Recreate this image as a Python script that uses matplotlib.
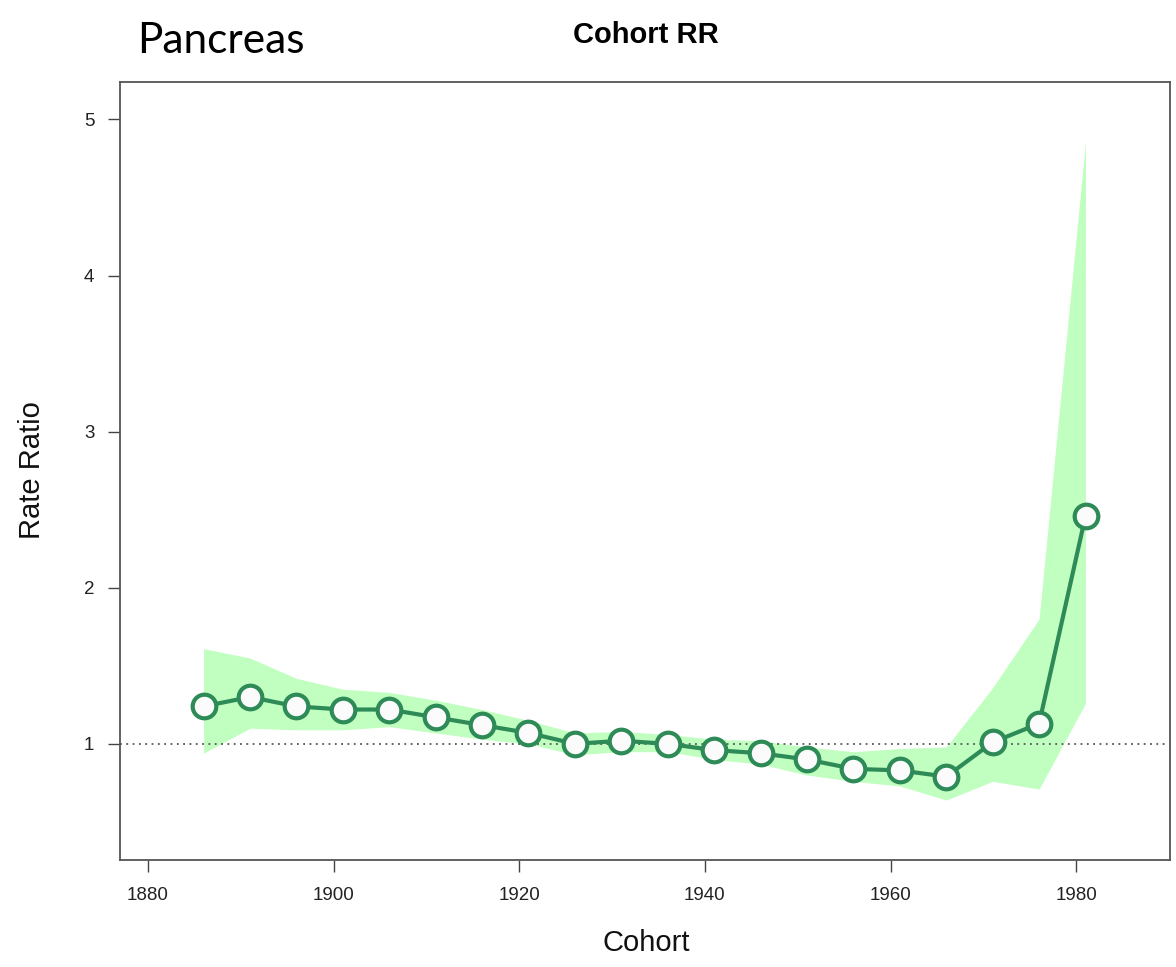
import matplotlib
matplotlib.use("Agg")
import matplotlib.pyplot as plt

cohort = [1886, 1891, 1896, 1901, 1906, 1911, 1916, 1921, 1926, 1931,
          1936, 1941, 1946, 1951, 1956, 1961, 1966, 1971, 1976, 1981]
rr = [1.24, 1.30, 1.24, 1.22, 1.22, 1.17, 1.12, 1.07, 1.00, 1.02,
      1.00, 0.96, 0.94, 0.90, 0.84, 0.83, 0.79, 1.01, 1.13, 2.46]
upper = [1.61, 1.55, 1.42, 1.35, 1.33, 1.28, 1.22, 1.15, 1.07, 1.08,
         1.06, 1.03, 1.02, 0.98, 0.95, 0.97, 0.98, 1.36, 1.80, 4.86]
lower = [0.94, 1.10, 1.09, 1.09, 1.11, 1.07, 1.03, 1.00, 0.93, 0.95,
         0.95, 0.90, 0.87, 0.80, 0.76, 0.73, 0.64, 0.76, 0.71, 1.26]
xticks = [1880, 1900, 1920, 1940, 1960, 1980]
yticks = [1, 2, 3, 4, 5]

plt.rcParams['font.family'] = ['Liberation Sans', 'DejaVu Sans']

W, H = 1176, 967
fig = plt.figure(figsize=(W / 100, H / 100), dpi=100)
ax = fig.add_axes([120 / W, 1 - 860 / H, 1050 / W, 778 / H])

ax.fill_between(cohort, lower, upper, color='#c0ffc0', lw=0, zorder=1)
ax.axhline(1, color='#555555', ls=(0, (1, 2.5)), lw=1.3, zorder=2)
ax.plot(cohort, rr, color='#2e8b57', lw=3, marker='o', ms=17,
        mfc='#fbfbfb', mec='#2e8b57', mew=3, zorder=3)

ax.set_xlim(1877, 1990.1)
ax.set_ylim(0.256, 5.24)
ax.set_xticks(xticks)
ax.set_yticks(yticks)
ax.tick_params(axis='both', direction='out', length=8.5, width=1,
               color='#444444', labelsize=13.5, labelcolor='#222222')
ax.tick_params(axis='x', pad=11)
ax.tick_params(axis='y', pad=10)
for s in ax.spines.values():
    s.set_color('#555555')
    s.set_linewidth(1.3)

fig.text(646 / W, 1 - 951 / H, 'Cohort', fontsize=21, ha='center',
         va='baseline', color='#111111')
fig.text(32 / W, 1 - 470 / H, 'Rate Ratio', fontsize=21, ha='center',
         va='center', rotation=90, color='#111111')
fig.text(646 / W, 1 - 43 / H, 'Cohort RR', fontsize=21, fontweight='bold',
         ha='center', va='baseline')
fig.text(137 / W, 1 - 53 / H, 'Pancreas', fontsize=30.5,
         family=['Lato', 'DejaVu Sans'], va='baseline', ha='left')

fig.savefig('out.png', dpi=100)
